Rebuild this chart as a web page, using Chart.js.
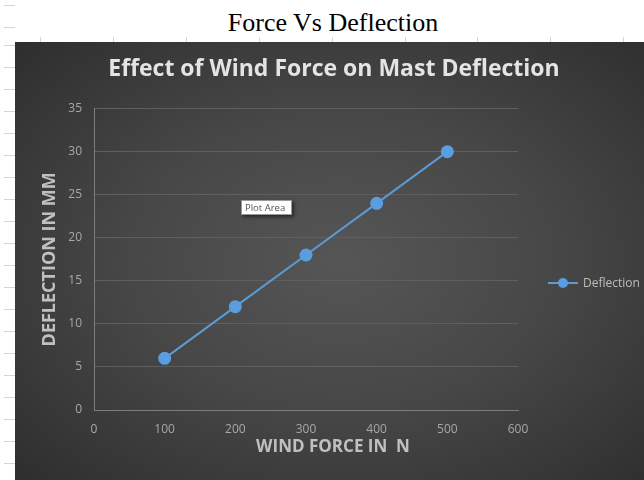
<!DOCTYPE html>
<html>
<head>
<meta charset="utf-8">
<script src="https://cdn.jsdelivr.net/npm/chart.js@4"></script>
<style>
  html, body { margin:0; padding:0; background:#fff; }
  body { width:644px; height:480px; position:relative; overflow:hidden; }
  #outerTitle { position:absolute; top:8px; left:333px; transform:translateX(-50%);
    font-family:"Liberation Serif","Times New Roman",serif; font-size:26px; line-height:30px; color:#000; white-space:nowrap; }
  #topLines { position:absolute; left:0; top:37px; width:644px; height:5px;
    background:repeating-linear-gradient(90deg,#d6d6d6 0 1px,transparent 1px 72.9px); background-position:40px 0; }
  #leftLines { position:absolute; left:4px; top:0; width:11px; height:480px;
    background:repeating-linear-gradient(180deg,#d6d6d6 0 1px,transparent 1px 22px); background-position:0 45px; }
  #panel { position:absolute; left:15px; top:42px; width:629px; height:438px;
    background:radial-gradient(ellipse 75% 75% at 52% 50%, #565656 0%, #474747 45%, #2c2c2c 100%); }
</style>
</head>
<body>
<div id="outerTitle">Force Vs Deflection</div>
<div id="topLines"></div>
<div id="leftLines"></div>
<div id="panel"><canvas id="c"></canvas></div>
<script>
const chartTitle = 'Effect of Wind Force on Mast Deflection';
const seriesName = 'Deflection';
const forces = [100, 200, 300, 400, 500];
const deflections = [6, 12, 18, 24, 30];
const xTitle = 'WIND FORCE IN  N';
const yTitle = 'DEFLECTION IN MM';
const xMin = 0, xMax = 600, xStep = 100;
const yMin = 0, yMax = 35, yStep = 5;
const hoverLabel = 'Plot Area';

const points = forces.map((f, i) => ({x: f, y: deflections[i]}));
const blue = '#5b9bd5';

const extras = {
  id: 'extras',
  afterDraw(chart) {
    const ctx = chart.ctx;
    const ds = chart.data.datasets[0];
    ctx.save();
    ctx.fillStyle = '#c0c0c0';
    ctx.font = 'bold 17px "Open Sans"';
    ctx.textAlign = 'center';
    ctx.textBaseline = 'middle';
    ctx.fillText(xTitle, 318, 405);
    const ly = 241, lx = 533;
    ctx.textAlign = 'left';
    ctx.strokeStyle = ds.borderColor; ctx.lineWidth = 2;
    ctx.beginPath(); ctx.moveTo(lx, ly); ctx.lineTo(lx + 30, ly); ctx.stroke();
    ctx.fillStyle = ds.pointBackgroundColor;
    ctx.beginPath(); ctx.arc(lx + 15, ly, 5, 0, Math.PI * 2); ctx.fill();
    ctx.fillStyle = '#bdbdbd';
    ctx.font = '12px "Open Sans"';
    ctx.fillText(ds.label, lx + 35, ly + 1);
    const bx = 226, by = 158, bw = 51, bh = 15;
    ctx.shadowColor = 'rgba(0,0,0,0.5)'; ctx.shadowBlur = 3; ctx.shadowOffsetX = 2; ctx.shadowOffsetY = 2;
    ctx.fillStyle = '#ffffff';
    ctx.fillRect(bx, by, bw, bh);
    ctx.shadowColor = 'transparent';
    ctx.strokeStyle = '#9a9a9a'; ctx.lineWidth = 1;
    ctx.strokeRect(bx + 0.5, by + 0.5, bw - 1, bh - 1);
    ctx.fillStyle = '#555555';
    ctx.font = '9.5px "Open Sans"';
    ctx.fillText(hoverLabel, bx + 4, by + bh / 2 + 0.5);
    ctx.restore();
  }
};

new Chart(document.getElementById('c'), {
  type: 'scatter',
  data: {
    datasets: [{
      label: seriesName,
      data: points,
      showLine: true,
      borderColor: blue,
      borderWidth: 2,
      pointBackgroundColor: '#5a9ee0',
      pointBorderColor: '#5a9ee0',
      pointRadius: 5.5,
      pointHoverRadius: 5.5
    }]
  },
  options: {
    responsive: true,
    maintainAspectRatio: false,
    devicePixelRatio: 1,
    animation: false,
    events: [],
    layout: { padding: { left: 9, right: 0, top: 0, bottom: 0 } },
    plugins: {
      legend: { display: false },
      tooltip: { enabled: false },
      title: {
        display: true,
        text: chartTitle,
        color: '#e4e4e4',
        font: { family: 'Open Sans', size: 23, weight: 'bold' },
        padding: { top: 14, bottom: 25 }
      }
    },
    scales: {
      x: {
        type: 'linear', min: xMin, max: xMax,
        ticks: { stepSize: xStep, color: '#a8a8a8', font: { family: 'Open Sans', size: 12 }, padding: 12 },
        grid: { display: false, drawTicks: false },
        border: { display: true, color: '#7d7d7d', width: 1 },
        title: { display: false },
        afterFit(s) { s.height = 70; }
      },
      y: {
        type: 'linear', min: yMin, max: yMax,
        ticks: { stepSize: yStep, color: '#a8a8a8', font: { family: 'Open Sans', size: 12 }, padding: 12 },
        grid: { color: '#5f5f5f', lineWidth: 1, drawTicks: false },
        border: { display: true, color: '#7d7d7d', width: 1 },
        title: { display: true, text: yTitle, color: '#c0c0c0',
          font: { family: 'Open Sans', size: 18, weight: 'bold' }, padding: { top: 15, bottom: 0 } },
        afterFit(s) { s.width = 70; }
      },
      yRight: {
        type: 'linear', position: 'right', display: true,
        grid: { display: false, drawTicks: false },
        border: { display: false },
        ticks: { display: false },
        afterFit(s) { s.width = 126; }
      }
    }
  },
  plugins: [extras]
});
</script>
</body>
</html>
